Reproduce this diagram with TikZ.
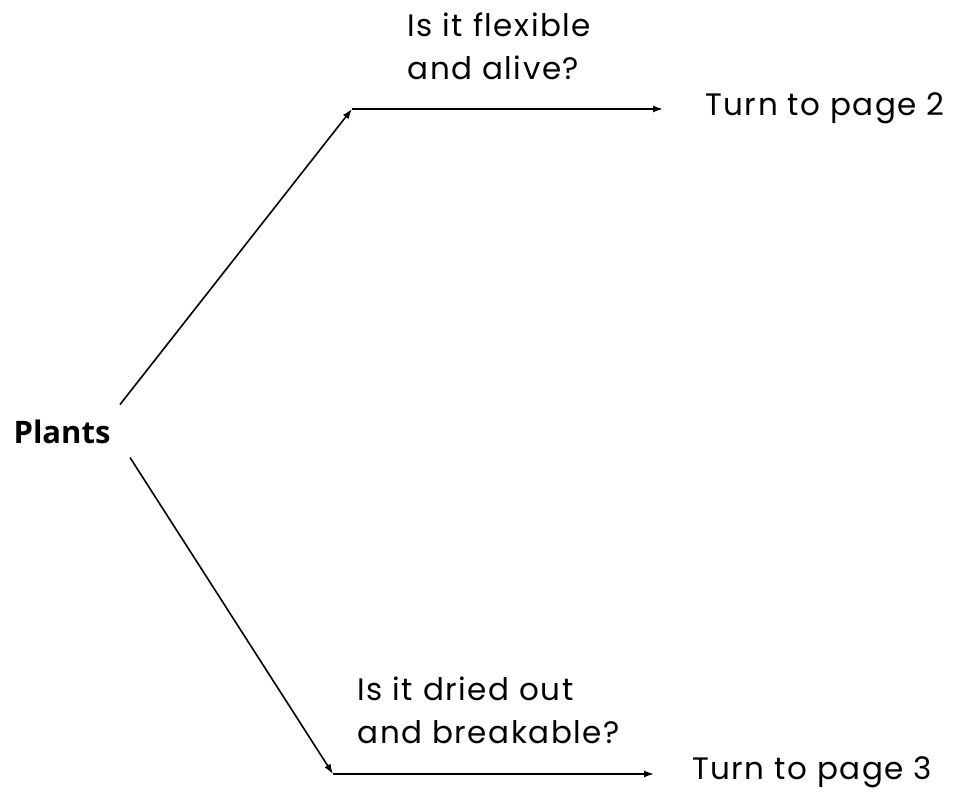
\documentclass[tikz,border=0pt]{standalone}
\usepackage{fontspec}
\setmainfont[LetterSpace=5]{Poppins}
\newfontfamily\labelfont{Open Sans}
\usetikzlibrary{arrows.meta}
\definecolor{keyink}{HTML}{000000}

\begin{document}
\begin{tikzpicture}[x=1pt, y=-1pt, >={Latex[length=10pt,width=7pt]},
                    every node/.style={keyink, font=\fontsize{31}{43}\selectfont},
                    question/.style={align=left, anchor=west},
                    link/.style={keyink, line width=1.6pt, ->}]

  \useasboundingbox (0,0) rectangle (953,795);

  %% start of the key
  \node (plants) at (62,432) {\labelfont\bfseries Plants};

  %% junctions and free ends of the arrows
  \coordinate (j1) at (352,109);
  \coordinate (e1) at (663,109);
  \coordinate (j2) at (333,774);
  \coordinate (e2) at (654,774);

  %% questions
  \node[question] (q1) at (404,46) {Is it flexible\\and alive?};
  \node[question] (q2) at (354,710) {Is it dried out\\and breakable?};

  %% answers
  \node (p2) at (825,108) {Turn to page 2};
  \node (p3) at (812,772) {Turn to page 3};

  %% arrows
  \draw[link] ([xshift=6pt,yshift=12pt]plants.north east) -- (j1);
  \draw[link] ([xshift=16pt,yshift=-10pt]plants.south east) -- (j2);
  \draw[link] (j1) -- (e1);
  \draw[link] (j2) -- (e2);

\end{tikzpicture}
\end{document}
